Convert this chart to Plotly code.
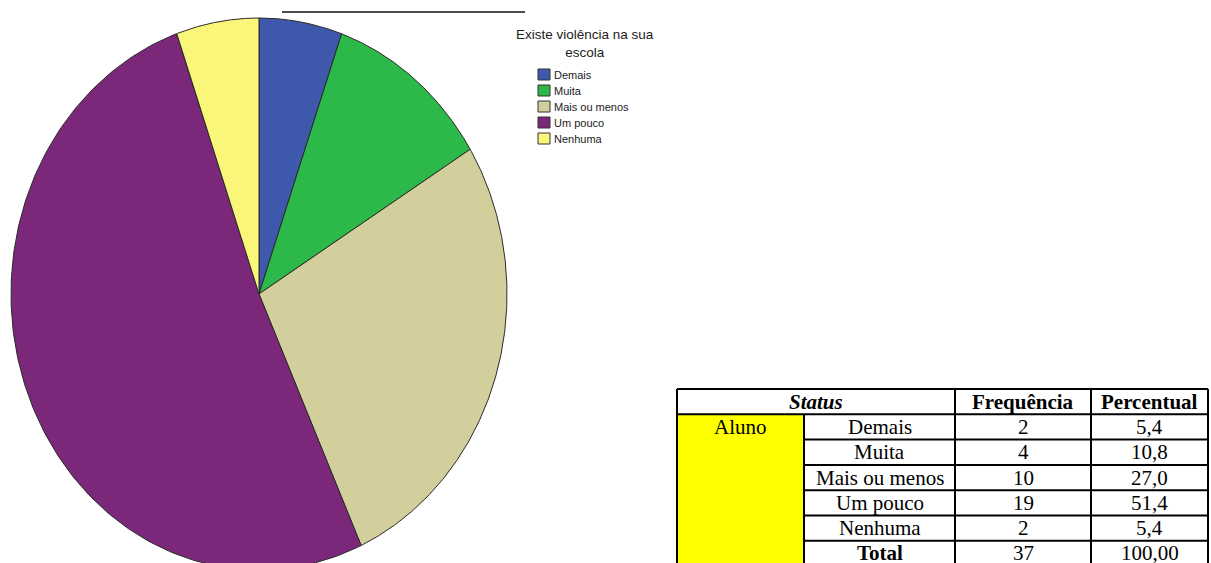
import numpy as np
import plotly.graph_objects as go

# ---- data ----
categories = ["Demais", "Muita", "Mais ou menos", "Um pouco", "Nenhuma"]
frequencia = [2, 4, 10, 19, 2]
percentual = ["5,4", "10,8", "27,0", "51,4", "5,4"]
total_label = "Total"
total_freq = "37"
total_pct = "100,00"
grupo = "Aluno"
legend_title = "Existe violência na sua<br>escola"
table_headers = ["Status", "Frequência", "Percentual"]

slice_colors = ["#3e58ab", "#2db84a", "#d3cf9c", "#7b287b", "#faf67a"]

W, H = 1211, 563

fig = go.Figure()

# ---- pie drawn as an ellipse (clockwise from 12 o'clock) ----
cx, cy, rx, ry = 259, 294, 248, 276
vals = np.array(frequencia, dtype=float)
bounds = np.concatenate([[0], np.cumsum(vals) / vals.sum()]) * 2 * np.pi
for i, cat in enumerate(categories):
    th = np.linspace(bounds[i], bounds[i + 1], 200)
    xs = np.concatenate([[cx], cx + rx * np.sin(th), [cx]])
    ys = np.concatenate([[cy], cy - ry * np.cos(th), [cy]])
    fig.add_trace(go.Scatter(
        x=xs, y=ys, mode="lines", fill="toself",
        fillcolor=slice_colors[i], line=dict(color="#2a2a2a", width=1),
        name=cat, showlegend=False, hoverinfo="name",
    ))

shapes = []
annotations = []

# rule above the chart
shapes.append(dict(type="line", xref="x", yref="y", x0=282, x1=525, y0=12, y1=12,
                   line=dict(color="#111", width=1.5)))

# ---- legend ----
annotations.append(dict(x=585, y=43, xref="x", yref="y", text=legend_title,
                        showarrow=False, align="center",
                        font=dict(family="Liberation Sans, Arial", size=13.5, color="#222")))
leg_y0 = 75
for i, cat in enumerate(categories):
    yc = leg_y0 + 16 * i
    shapes.append(dict(type="rect", xref="x", yref="y", x0=538, x1=550, y0=yc - 6, y1=yc + 5,
                       fillcolor=slice_colors[i], line=dict(color="#333", width=1)))
    annotations.append(dict(x=552, y=yc, xref="x", yref="y", text=cat, showarrow=False,
                            xanchor="left", yanchor="middle",
                            font=dict(family="Liberation Sans, Arial", size=11, color="#222")))

# ---- table ----
col_x = [677, 804, 955, 1091, 1208]
row_h = 25.3
top = 389
n_rows = len(categories) + 1
row_y = [top + row_h * k for k in range(n_rows + 2)]
serif = "Liberation Serif, Times New Roman"
fs = 21

# yellow group column
shapes.append(dict(type="rect", xref="x", yref="y", x0=col_x[0], x1=col_x[1],
                   y0=row_y[1], y1=row_y[-1], fillcolor="#ffff00", line=dict(width=0)))
# horizontal rules
shapes.append(dict(type="line", xref="x", yref="y", x0=col_x[0], x1=col_x[-1],
                   y0=row_y[0], y1=row_y[0], line=dict(color="black", width=2)))
shapes.append(dict(type="line", xref="x", yref="y", x0=col_x[0], x1=col_x[-1],
                   y0=row_y[1], y1=row_y[1], line=dict(color="black", width=2)))
for k in range(2, n_rows + 1):
    shapes.append(dict(type="line", xref="x", yref="y", x0=col_x[1], x1=col_x[-1],
                       y0=row_y[k], y1=row_y[k], line=dict(color="black", width=2)))
# vertical rules
for j, xv in enumerate(col_x):
    y_start = row_y[1] if j == 1 else row_y[0]
    shapes.append(dict(type="line", xref="x", yref="y", x0=xv, x1=xv,
                       y0=y_start, y1=row_y[-1], line=dict(color="black", width=2)))

def cell(x, y, text, bold=False, italic=False):
    t = text
    if bold:
        t = f"<b>{t}</b>"
    if italic:
        t = f"<i>{t}</i>"
    annotations.append(dict(x=x, y=y, xref="x", yref="y", text=t, showarrow=False,
                            xanchor="center", yanchor="middle",
                            font=dict(family=serif, size=fs, color="black")))

mid = lambda a, b: (a + b) / 2
hy = mid(row_y[0], row_y[1])
cell(mid(col_x[0], col_x[2]), hy, table_headers[0], bold=True, italic=True)
cell(mid(col_x[2], col_x[3]), hy, table_headers[1], bold=True)
cell(mid(col_x[3], col_x[4]), hy, table_headers[2], bold=True)
cell(mid(col_x[0], col_x[1]), mid(row_y[1], row_y[2]), grupo)
for i, cat in enumerate(categories):
    yc = mid(row_y[i + 1], row_y[i + 2])
    cell(mid(col_x[1], col_x[2]), yc, cat)
    cell(mid(col_x[2], col_x[3]), yc, str(frequencia[i]))
    cell(mid(col_x[3], col_x[4]), yc, percentual[i])
yt = mid(row_y[n_rows], row_y[n_rows + 1])
cell(mid(col_x[1], col_x[2]), yt, total_label, bold=True)
cell(mid(col_x[2], col_x[3]), yt, total_freq)
cell(mid(col_x[3], col_x[4]), yt, total_pct)

fig.update_layout(
    width=W, height=H, margin=dict(l=0, r=0, t=0, b=0),
    paper_bgcolor="white", plot_bgcolor="white",
    xaxis=dict(range=[0, W], visible=False, fixedrange=True, domain=[0, 1]),
    yaxis=dict(range=[H, 0], visible=False, fixedrange=True, domain=[0, 1]),
    shapes=shapes, annotations=annotations, showlegend=False,
)

fig.write_html("out.html", config={"displayModeBar": False})
